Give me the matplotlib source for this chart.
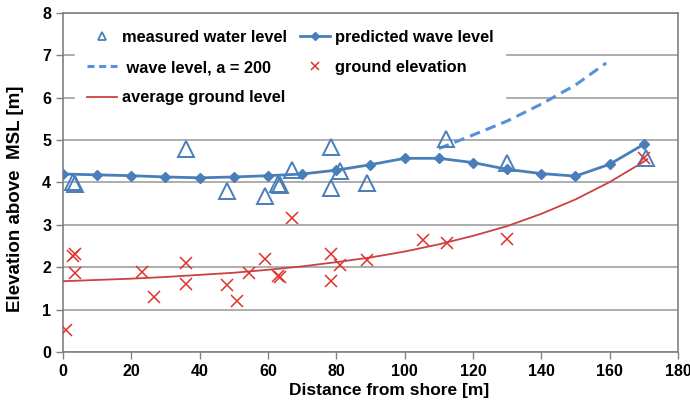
import matplotlib
matplotlib.use('Agg')
import matplotlib.pyplot as plt

plt.rcParams['font.family'] = ['Liberation Sans', 'DejaVu Sans']
plt.rcParams['font.weight'] = 'bold'

# measured water level (triangles)
meas_x = [3, 3.5, 36, 48, 59, 63, 63.5, 67, 78.5, 78.5, 81, 89, 112, 130, 170.5]
meas_y = [4.0, 3.97, 4.79, 3.8, 3.69, 3.96, 3.93, 4.29, 4.84, 3.88, 4.27, 3.98, 5.02, 4.47, 4.58]

# predicted wave level (diamonds)
pred_x = [0, 10, 20, 30, 40, 50, 60, 70, 80, 90, 100, 110, 120, 130, 140, 150, 160, 170]
pred_y = [4.2, 4.18, 4.16, 4.13, 4.11, 4.13, 4.16, 4.2, 4.29, 4.42, 4.57, 4.57, 4.47, 4.31, 4.21, 4.15, 4.43, 4.9]

# wave level, a = 200 (dashed)
wave_x = [110, 120, 130, 140, 150, 159]
wave_y = [4.8, 5.12, 5.45, 5.85, 6.3, 6.82]

# ground elevation (crosses)
gnd_x = [1, 3, 3.5, 3.5, 23, 26.5, 36, 36, 48, 51, 54.5, 59, 63, 63.5, 67, 78.5, 78.5, 81, 89,
         105.5, 112.5, 130, 170]
gnd_y = [0.53, 2.27, 2.31, 1.87, 1.88, 1.29, 2.09, 1.61, 1.58, 1.2, 1.87, 2.2, 1.8, 1.77, 3.16,
         2.32, 1.68, 2.05, 2.18, 2.64, 2.56, 2.67, 4.58]

# average ground level (curve)
avg_x = [0, 10, 20, 30, 40, 50, 60, 70, 80, 90, 100, 110, 120, 130, 140, 150, 160, 170, 171]
avg_y = [1.67, 1.70, 1.73, 1.77, 1.82, 1.87, 1.94, 2.02, 2.12, 2.23, 2.37, 2.54, 2.74, 2.97,
         3.26, 3.60, 4.01, 4.49, 4.55]

blue = '#4a7ebb'
lblue = '#5591dd'
red = '#e0312b'
dred = '#cc4040'

fig = plt.figure(figsize=(6.9, 4.05), dpi=100)
ax = fig.add_axes([0.0913, 0.1309, 0.8913, 0.8371])

ax.grid(axis='y', color='#a0a0a0', linewidth=1.2)
ax.set_axisbelow(True)

h1, = ax.plot(meas_x, meas_y, linestyle='none', marker='^', markersize=12,
              markerfacecolor='none', markeredgecolor=blue, markeredgewidth=1.4,
              label='measured water level', zorder=4)
h4, = ax.plot(pred_x, pred_y, color=blue, linewidth=2, marker='D', markersize=5,
              label='predicted wave level', zorder=5)
h2, = ax.plot(wave_x, wave_y, color=lblue, linewidth=2.2, linestyle=(0, (3.5, 2)),
              label=' wave level, a = 200', zorder=3)
h5, = ax.plot(gnd_x, gnd_y, linestyle='none', marker='x', markersize=8,
              markeredgecolor=red, markeredgewidth=1.1, label='ground elevation', zorder=4)
h3, = ax.plot(avg_x, avg_y, color=dred, linewidth=1.3, label='average ground level', zorder=3)

ax.set_xlim(0, 180)
ax.set_ylim(0, 8)
ax.set_xticks(range(0, 181, 20))
ax.set_yticks(range(0, 9))
ax.tick_params(labelsize=11.5, color='#808080', length=5, width=1)
for lab in ax.get_xticklabels() + ax.get_yticklabels():
    lab.set_fontweight('bold')
for sp in ax.spines.values():
    sp.set_color('#808080')
    sp.set_linewidth(1.2)

ax.set_xlabel('Distance from shore [m]', fontsize=12.5, fontweight='bold')
ax.xaxis.set_label_coords(0.53, -0.092)
ax.set_ylabel('Elevation above  MSL [m]', fontsize=13.5, fontweight='bold')
ax.yaxis.set_label_coords(-0.064, 0.453)

leg = ax.legend(handles=[h1, h2, h3, h4, h5], ncol=2, loc='upper left',
                bbox_to_anchor=(0.0198, 0.9855), frameon=True, fancybox=False,
                edgecolor='white', framealpha=1, fontsize=11.8,
                handlelength=1.85, handletextpad=0.3, columnspacing=0.75,
                labelspacing=0.94, borderpad=0.72, borderaxespad=0)
for t in leg.get_texts():
    t.set_fontweight('bold')
lh = leg.legend_handles
lh[0].set_markersize(6)
lh[0].set_markeredgewidth(1.3)
lh[1].set_linestyle((0, (2.3, 1.5)))
lh[3].set_markersize(4)
lh[4].set_markersize(6)

fig.savefig('out.png', dpi=100)
